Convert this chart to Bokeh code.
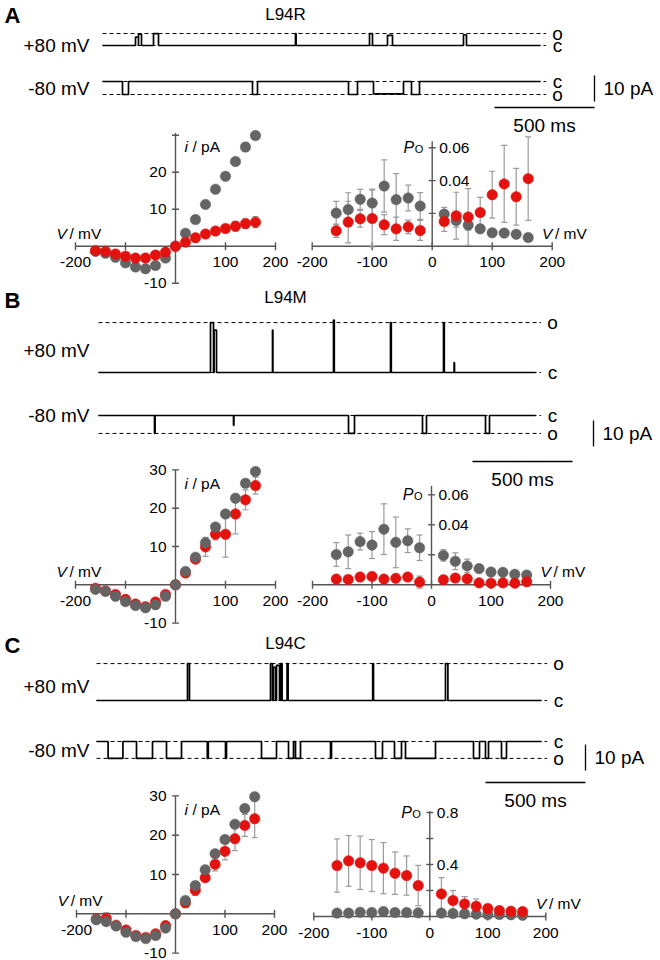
from math import pi

from bokeh.plotting import figure
from bokeh.models import Range1d
from bokeh.core.properties import value
from bokeh.embed import file_html
from bokeh.resources import INLINE

# ---------------------------------------------------------------- data
volts_iv = [-160, -140, -120, -100, -80, -60, -40, -20, 0, 20, 40, 60, 80, 100, 120, 140, 160]
volts_po = [-160, -140, -120, -100, -80, -60, -40, -20, 20, 40, 60, 80, 100, 120, 140, 160]

# single-channel current (pA), WT (gray) and mutant (red)
a_iv_gray = [-1.4, -1.9, -3.0, -4.5, -5.6, -6.1, -5.2, -3.2, 0, 3.5, 7.2, 11.3, 15.4, 18.9, 22.9, 26.8, 29.9]
a_iv_gray_err = [0.3, 0.4, 0.5, 0.5, 0.4, 0.4, 0.4, 0.4, 0, 0.4, 0.4, 0.5, 0.6, 0.7, 0.8, 1.1, 0.7]
a_iv_red = [-1.2, -1.4, -2.1, -2.7, -3.2, -3.2, -2.4, -1.6, 0, 1.1, 2.3, 3.3, 4.1, 4.8, 5.4, 6.1, 6.5]
a_iv_red_err = [0.3, 0.3, 0.3, 0.3, 0.3, 0.3, 0.3, 0.3, 0, 0.3, 0.4, 0.6, 0.8, 1.0, 1.3, 1.3, 1.5]

b_iv_gray = [-1.2, -1.7, -3.0, -4.4, -5.4, -6.0, -5.2, -3.0, 0, 3.5, 7.2, 11.0, 15.1, 18.5, 22.6, 26.5, 29.6]
b_iv_gray_err = [0.3, 0.3, 0.4, 0.4, 0.4, 0.4, 0.4, 0.4, 0, 0.4, 0.5, 0.8, 0.6, 0.6, 0.7, 1.0, 0.6]
b_iv_red = [-0.9, -1.6, -2.5, -3.8, -5.0, -5.7, -4.5, -2.5, 0, 3.1, 6.7, 9.9, 13.2, 13.2, 18.5, 22.2, 25.9]
b_iv_red_err = [0.3, 0.3, 0.3, 0.4, 0.4, 0.4, 0.5, 0.5, 0, 0.5, 0.6, 2.5, 1.5, 6.0, 5.2, 2.6, 2.2]

c_iv_gray = [-1.5, -2.0, -3.1, -4.7, -5.8, -6.3, -5.5, -3.6, 0, 3.4, 7.2, 11.2, 15.3, 18.9, 22.8, 26.8, 29.8]
c_iv_gray_err = [0.3, 0.5, 0.4, 0.4, 0.4, 0.4, 0.4, 0.4, 0, 0.4, 0.5, 0.6, 0.6, 0.6, 0.6, 1.0, 0.8]
c_iv_red = [-1.3, -1.2, -2.9, -4.1, -5.5, -6.0, -5.1, -3.0, 0, 2.8, 6.0, 9.2, 12.6, 15.9, 19.1, 22.5, 24.2]
c_iv_red_err = [0.3, 1.5, 0.4, 0.4, 0.4, 0.4, 0.5, 0.6, 0, 1.2, 1.3, 1.0, 1.7, 2.2, 3.0, 2.8, 4.8]

# open probability
a_po_gray = [0.0202, 0.0224, 0.0286, 0.0263, 0.0367, 0.0284, 0.0294, 0.0245,
             0.0196, 0.0157, 0.0129, 0.0106, 0.0082, 0.0080, 0.0073, 0.0053]
a_po_gray_err = [0.0071, 0.0102, 0.0061, 0.0085, 0.0159, 0.0159, 0.0078, 0.0082,
                 0.0041, 0.0041, 0.0031, 0.0024, 0.0010, 0.0010, 0.0010, 0.0010]
a_po_red = [0.0094, 0.0147, 0.0167, 0.0169, 0.0131, 0.0106, 0.0118, 0.0096,
            0.0151, 0.0186, 0.0178, 0.0206, 0.0314, 0.0380, 0.0302, 0.0412]
a_po_red_err = [0.0041, 0.0127, 0.0051, 0.0173, 0.0061, 0.0071, 0.0041, 0.0061,
                0.0061, 0.0143, 0.0173, 0.0092, 0.0143, 0.0235, 0.0173, 0.0255]

b_po_gray = [0.0202, 0.0220, 0.0288, 0.0265, 0.0371, 0.0283, 0.0294, 0.0247,
             0.0196, 0.0157, 0.0126, 0.0108, 0.0085, 0.0083, 0.0070, 0.0065]
b_po_gray_err = [0.0079, 0.0112, 0.0056, 0.0090, 0.0169, 0.0169, 0.0079, 0.0085,
                 0.0038, 0.0056, 0.0045, 0.0027, 0.0011, 0.0011, 0.0011, 0.0011]
b_po_red = [0.0038, 0.0036, 0.0052, 0.0056, 0.0038, 0.0043, 0.0052, 0.0018,
            0.0034, 0.0045, 0.0040, 0.0013, 0.0011, 0.0013, 0.0011, 0.0020]
b_po_red_err = [0.0022, 0.0020, 0.0018, 0.0022, 0.0018, 0.0020, 0.0022, 0.0040,
                0.0018, 0.0020, 0.0020, 0.0008, 0.0006, 0.0006, 0.0006, 0.0008]

c_po_gray = [0.026, 0.026, 0.033, 0.031, 0.038, 0.031, 0.031, 0.028,
             0.026, 0.023, 0.021, 0.018, 0.015, 0.015, 0.013, 0.010]
c_po_gray_err = [0.005] * 16
c_po_red = [0.392, 0.428, 0.413, 0.392, 0.372, 0.333, 0.315, 0.238,
            0.174, 0.123, 0.097, 0.079, 0.062, 0.046, 0.041, 0.038]
c_po_red_err = [0.205, 0.195, 0.205, 0.200, 0.197, 0.163, 0.151, 0.155,
                0.125, 0.077, 0.056, 0.056, 0.030, 0.026, 0.020, 0.018]

# single-channel records: opening start/end (ms) and fraction of open level
a_pos_open = [4.6, 2190]          # open level (pA), record length (ms)
a_pos_t0 = [165, 180, 255, 965, 1335, 1425, 1805]
a_pos_t1 = [180, 195, 280, 968, 1350, 1450, 1820]
a_pos_f = [0.7, 0.95, 1.0, 1.0, 1.0, 0.85, 0.9]
a_neg_open = [-5.0, 2190]
a_neg_t0 = [100, 750, 1230, 1355, 1545]
a_neg_t1 = [130, 775, 1275, 1505, 1585]
a_neg_f = [1.0, 1.0, 1.0, 0.95, 1.0]

b_pos_open = [19.2, 2185]
b_pos_t0 = [560, 578, 870, 1175, 1460, 1725, 1778]
b_pos_t1 = [575, 590, 872, 1179, 1464, 1729, 1780]
b_pos_f = [1.0, 0.85, 0.85, 1.05, 1.0, 1.0, 0.2]
b_neg_open = [-6.9, 2185]
b_neg_t0 = [280, 675, 1250, 1620, 1935]
b_neg_t1 = [283, 677, 1280, 1640, 1955]
b_neg_f = [1.0, 0.55, 1.0, 1.0, 1.0]

c_pos_open = [14.2, 2225]
c_pos_t0 = [455, 870, 884, 900, 920, 953, 1381, 1745]
c_pos_t1 = [465, 880, 895, 915, 928, 958, 1385, 1757]
c_pos_f = [1.0, 1.0, 0.9, 0.95, 1.0, 1.0, 1.0, 1.0]
c_neg_open = [-6.5, 2225]
c_neg_t0 = [58, 200, 350, 554, 645, 825, 960, 995, 1170, 1395, 1490, 1545, 1885, 1945, 2025]
c_neg_t1 = [132, 280, 425, 559, 650, 900, 985, 1020, 1175, 1430, 1525, 1695, 1915, 1960, 2050]
c_neg_f = [1.0] * 15

# ---------------------------------------------------------------- style
W, H = 660, 960
FONT = "Liberation Sans"
GRAY = "#646464"
RED = "#e3120e"
ERR = "#9b9b9b"
AX = "#555555"
TICK_PX = 15.5
BIG_PX = 19

p = figure(width=W, height=H, x_range=Range1d(0, W), y_range=Range1d(H, 0),
           output_backend="svg", toolbar_location=None, min_border=0,
           x_axis_type=None, y_axis_type=None)
p.grid.visible = False
p.outline_line_color = None
p.background_fill_color = "white"
p.border_fill_color = "white"

xr, yr = {}, {}


def frame(name, x_px, x_val, x_k, y_px, y_val, y_k):
    """Named data ranges placing value x_val at pixel x_px (k px per unit)."""
    xr[name] = Range1d(x_val - x_px / x_k, x_val + (W - x_px) / x_k)
    yr[name] = Range1d(y_val - (H - y_px) / y_k, y_val + y_px / y_k)
    return dict(name=name, xk=x_k, yk=y_k)


def rn(fr):
    return dict(x_range_name=fr["name"], y_range_name=fr["name"])


def txt(x, y, s, size=15, align="left", baseline="middle", style="normal", fr=None, color="black"):
    kw = rn(fr) if fr else {}
    p.text(x=[x], y=[y], text=[s], text_font=value(FONT), text_font_size=f"{size}px",
           text_align=align, text_baseline=baseline, text_font_style=style,
           text_color=color, **kw)


# ---------------------------------------------------------------- frames
panels = {
    "A": dict(iv=frame("A_iv", 175, 0, 0.5, 245.7, 0, 3.7),
              po=frame("A_po", 431.7, 0, 0.6, 245.7, 0, 1640),
              pos=frame("A_pos", 102, 0, 0.2, 45, 0, 2.6),
              neg=frame("A_neg", 102, 0, 0.2, 81, 0, 2.6),
              sbv=frame("A_sbv", 594, 0, 0.2, 101, 0, 2.6),
              sbh=frame("A_sbh", 594, 0, 0.2, 107, 0, 2.6)),
    "B": dict(iv=frame("B_iv", 175, 0, 0.5, 584.3, 0, 3.83),
              po=frame("B_po", 431, 0, 0.595, 584.3, 0, 1500),
              pos=frame("B_pos", 98, 0, 0.2, 372, 0, 2.6),
              neg=frame("B_neg", 98, 0, 0.2, 415, 0, 2.6),
              sbv=frame("B_sbv", 593, 0, 0.2, 446, 0, 2.6),
              sbh=frame("B_sbh", 572, 0, 0.2, 461, 0, 2.6)),
    "C": dict(iv=frame("C_iv", 175, 0, 0.495, 913.3, 0, 3.93),
              po=frame("C_po", 429.3, 0, 0.58, 916, 0, 130),
              pos=frame("C_pos", 96, 0, 0.2, 700, 0, 2.6),
              neg=frame("C_neg", 96, 0, 0.2, 741, 0, 2.6),
              sbv=frame("C_sbv", 585, 0, 0.2, 770, 0, 2.6),
              sbh=frame("C_sbh", 585, 0, 0.2, 782, 0, 2.6)),
}
p.extra_x_ranges = xr
p.extra_y_ranges = yr


# ---------------------------------------------------------------- helpers
def errorbars(fr, xs, ys, es):
    xb = [x for x, e in zip(xs, es) if e > 0]
    lo = [y - e for y, e in zip(ys, es) if e > 0]
    hi = [y + e for y, e in zip(ys, es) if e > 0]
    p.segment(x0=xb, y0=lo, x1=xb, y1=hi, line_color=ERR, line_width=1.2, **rn(fr))
    p.scatter(x=xb + xb, y=lo + hi, marker="dash", size=6, line_color=ERR, line_width=1.2, **rn(fr))


def dots(fr, xs, ys, color):
    p.scatter(x=xs, y=ys, marker="circle", size=10.5, fill_color=color, line_color=color,
              line_width=0.5, **rn(fr))


def x_axis(fr, labels, lab_dy):
    p.segment(x0=[-200], y0=[0], x1=[200], y1=[0], line_color=AX, line_width=1.4, **rn(fr))
    ticks = [-200, -100, 0, 100, 200]
    p.scatter(x=ticks, y=[0] * 5, marker="dash", angle=pi / 2, size=8,
              line_color=AX, line_width=1.4, **rn(fr))
    for v in labels:
        txt(v, -lab_dy / fr["yk"], str(v), size=TICK_PX, align="center", fr=fr)


def iv_plot(key, gray, gray_err, red, red_err, ylabels, ytop, red_on_top):
    fr = panels[key]["iv"]
    # axes
    p.segment(x0=[0], y0=[-10], x1=[0], y1=[ytop], line_color=AX, line_width=1.4, **rn(fr))
    yt = [-10, 10, 20, 30]
    p.scatter(x=[0] * 4, y=yt, marker="dash", size=7, line_color=AX, line_width=1.4, **rn(fr))
    for v in ylabels:
        txt(-9 / fr["xk"], v, str(v), size=TICK_PX, align="right", fr=fr)
    x_axis(fr, [-200, 100, 200], 16)
    txt(-238, 13 / fr["yk"], "V", size=15.5, style="italic", fr=fr)
    txt(-238 + 13 / fr["xk"], 13 / fr["yk"], "/ mV", size=15.5, fr=fr)
    txt(18, ytop - 14 / fr["yk"], "i", size=15.5, style="italic", fr=fr)
    txt(18 + 8 / fr["xk"], ytop - 14 / fr["yk"], "/ pA", size=15.5, fr=fr)
    # data
    errorbars(fr, volts_iv, gray, gray_err)
    errorbars(fr, volts_iv, red, red_err)
    if red_on_top:
        dots(fr, volts_iv, gray, GRAY)
        dots(fr, volts_iv, red, RED)
    else:
        dots(fr, volts_iv, red, RED)
        dots(fr, volts_iv, gray, GRAY)


def po_plot(key, gray, gray_err, red, red_err, yticks, ylabels, ytop, fmt):
    fr = panels[key]["po"]
    p.segment(x0=[0], y0=[0], x1=[0], y1=[ytop], line_color=AX, line_width=1.4, **rn(fr))
    p.scatter(x=[0] * len(yticks), y=yticks, marker="dash", size=7, line_color=AX,
              line_width=1.4, **rn(fr))
    for v in ylabels:
        txt(7 / fr["xk"], v, fmt.format(v), size=TICK_PX, fr=fr)
    top = ylabels[-1]
    txt(-18 / fr["xk"], top, "P", size=16, style="italic", align="right", fr=fr)
    txt(-9 / fr["xk"], top - 1 / fr["yk"], "O", size=11, align="right", fr=fr)
    x_axis(fr, [-200, -100, 0, 100, 200], 16)
    txt(183, 13 / fr["yk"], "V", size=15.5, style="italic", fr=fr)
    txt(183 + 13 / fr["xk"], 13 / fr["yk"], "/ mV", size=15.5, fr=fr)
    errorbars(fr, volts_po, gray, gray_err)
    errorbars(fr, volts_po, red, red_err)
    dots(fr, volts_po, gray, GRAY)
    dots(fr, volts_po, red, RED)


def record(fr, open_info, t0, t1, frac):
    level, dur = open_info
    xs, ys = [0], [0]
    for s, e, f in zip(t0, t1, frac):
        xs += [s, s, e, e]
        ys += [0, f * level, f * level, 0]
    xs.append(dur)
    ys.append(0)
    end = dur + 28
    p.multi_line(xs=[[0, end], [0, end]], ys=[[0, 0], [level, level]], line_color="black",
                 line_width=1, line_dash="4 3", **rn(fr))
    p.line(xs, ys, line_color="black", line_width=1.7, **rn(fr))
    lx = dur + 85
    txt(lx, level, "o", size=BIG_PX, align="center", fr=fr)
    txt(lx, 0, "c", size=BIG_PX, align="center", fr=fr)


def header(key, letter_y, title, title_y, pos_y, neg_y, pos, neg):
    fr = panels[key]
    txt(4, letter_y, key, size=22, style="bold")
    txt(285, title_y, title, size=17, align="center")
    txt(89, pos_y, "+80 mV", size=BIG_PX, align="right")
    txt(89, neg_y, "-80 mV", size=BIG_PX, align="right")
    record(fr["pos"], pos[0], pos[1], pos[2], pos[3])
    record(fr["neg"], neg[0], neg[1], neg[2], neg[3])
    # 10 pA and 500 ms scale bars
    p.segment(x0=[0], y0=[0], x1=[0], y1=[10], line_color="black", line_width=1.3, **rn(fr["sbv"]))
    txt(9 / fr["sbv"]["xk"], 5, "10 pA", size=BIG_PX, fr=fr["sbv"])
    p.segment(x0=[-500], y0=[0], x1=[0], y1=[0], line_color="black", line_width=1.3, **rn(fr["sbh"]))
    txt(-250, -18 / fr["sbh"]["yk"], "500 ms", size=BIG_PX, align="center", fr=fr["sbh"])


# ---------------------------------------------------------------- panels
header("A", 15, "L94R", 14, 45, 88,
       (a_pos_open, a_pos_t0, a_pos_t1, a_pos_f), (a_neg_open, a_neg_t0, a_neg_t1, a_neg_f))
iv_plot("A", a_iv_gray, a_iv_gray_err, a_iv_red, a_iv_red_err, [20, 10, -10], 30.6, True)
po_plot("A", a_po_gray, a_po_gray_err, a_po_red, a_po_red_err,
        [0.02, 0.04, 0.06], [0.04, 0.06], 0.064, "{:.2f}")

header("B", 300, "L94M", 297, 350, 415,
       (b_pos_open, b_pos_t0, b_pos_t1, b_pos_f), (b_neg_open, b_neg_t0, b_neg_t1, b_neg_f))
iv_plot("B", b_iv_gray, b_iv_gray_err, b_iv_red, b_iv_red_err, [30, 20, 10, -10], 30, False)
po_plot("B", b_po_gray, b_po_gray_err, b_po_red, b_po_red_err,
        [0.02, 0.04, 0.06], [0.04, 0.06], 0.066, "{:.2f}")

header("C", 645, "L94C", 643, 686, 750,
       (c_pos_open, c_pos_t0, c_pos_t1, c_pos_f), (c_neg_open, c_neg_t0, c_neg_t1, c_neg_f))
iv_plot("C", c_iv_gray, c_iv_gray_err, c_iv_red, c_iv_red_err, [30, 20, 10, -10], 30, False)
po_plot("C", c_po_gray, c_po_gray_err, c_po_red, c_po_red_err,
        [0.2, 0.4, 0.6, 0.8], [0.4, 0.8], 0.81, "{:.1f}")

open("out.html", "w").write(file_html(p, INLINE))
